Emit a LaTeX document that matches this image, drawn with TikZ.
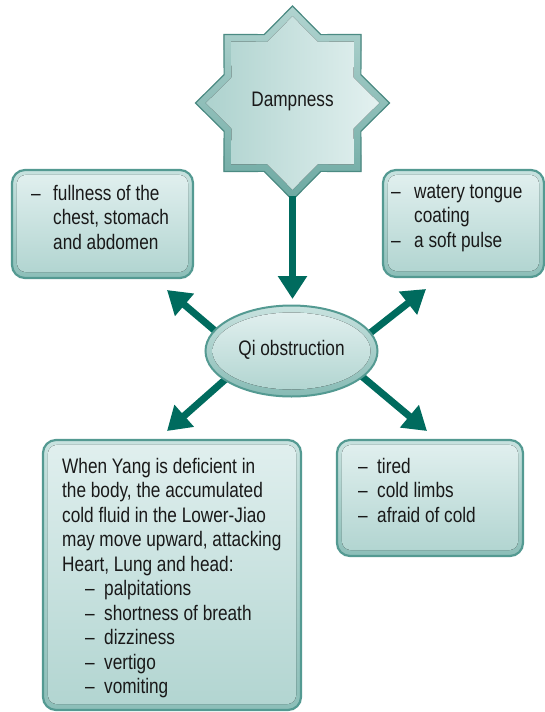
\documentclass[tikz,border=0pt]{standalone}
\usepackage{fontspec}
\setmainfont[FakeStretch=0.82]{Liberation Sans}
\usetikzlibrary{arrows.meta,shapes.geometric}
\definecolor{arrowc}{RGB}{0,107,94}
\definecolor{edgec}{RGB}{84,154,146}
\definecolor{bandtop}{RGB}{200,226,223}
\definecolor{bandbot}{RGB}{140,190,184}
\definecolor{intop}{RGB}{224,239,238}
\definecolor{inbot}{RGB}{178,213,209}
\definecolor{txtc}{RGB}{25,25,25}
\newcommand\dstar[2]{(90:#1) -- (112.5:#2) -- (135:#1) -- (157.5:#2) -- (180:#1) -- (202.5:#2) -- (225:#1) -- (247.5:#2) -- (270:#1) -- (292.5:#2) -- (315:#1) -- (337.5:#2) -- (0:#1) -- (22.5:#2) -- (45:#1) -- (67.5:#2) -- cycle}
\newcommand\dashitem[2]{\makebox[#1][l]{–}#2}
\begin{document}
\begin{tikzpicture}[x=1pt,y=-1pt,
  txt/.style={inner sep=0pt, text=txtc, font=\fontsize{21}{24.5}\selectfont},
  boxout/.style={draw=edgec, line width=2.2pt, rounded corners=13pt, top color=bandtop, bottom color=bandbot, inner sep=0pt},
  boxin/.style={rounded corners=9pt, top color=intop, bottom color=inbot},
  arr/.style={draw=arrowc, line width=7pt, -{Triangle[width=28pt,length=23pt]}}
]
\useasboundingbox (0,0) rectangle (544,712);
% ---------- star
\begin{scope}[shift={(292.5,103)}]
  \fill[top color=bandtop!80!edgec, bottom color=edgec!85] \dstar{97}{74};
  \fill[left color=inbot!95!edgec, right color=intop!90!white] [scale=0.895] \dstar{97}{74};
  \draw[edgec!90!black, line width=1.2pt] \dstar{97}{74};
\end{scope}
\coordinate (starbot) at (292.5,196);
\node[txt] (damp) at (292.5,101) {Dampness};
% ---------- arrows (drawn under the ellipse)
\coordinate (tipD) at (292.5,299);
\coordinate (tipUL) at (167,290);
\coordinate (tipUR) at (426,289);
\coordinate (tipDL) at (167,431);
\coordinate (tipDR) at (427,431);
\coordinate (tailUL) at (240,352);
\coordinate (tailUR) at (346,352);
\coordinate (tailDL) at (245,362);
\coordinate (tailDR) at (340,358);
\draw[arr] (starbot) -- (tipD);
\draw[arr] (tailUL) -- (tipUL);
\draw[arr] (tailUR) -- (tipUR);
\draw[arr] (tailDL) -- (tipDL);
\draw[arr] (tailDR) -- (tipDR);
% ---------- ellipse
\node[ellipse, draw=edgec, line width=2pt, top color=bandtop, bottom color=bandbot!90!edgec, minimum width=172pt, minimum height=91pt, inner sep=0pt] (qi) at (291.5,351) {};
\fill[top color=intop, bottom color=inbot] (qi.center) ellipse [x radius=79, y radius=38.5];
\node[txt] (qitxt) at (291.5,350) {Qi obstruction};
% ---------- boxes
\node[boxout, minimum width=181pt, minimum height=108pt] (bTL) at (102.5,224) {};
\fill[boxin] ([shift={(6,6)}]bTL.north west) rectangle ([shift={(-6,-7)}]bTL.south east);
\node[boxout, minimum width=161pt, minimum height=107pt] (bTR) at (463.5,223.5) {};
\fill[boxin] ([shift={(6,6)}]bTR.north west) rectangle ([shift={(-6,-7)}]bTR.south east);
\node[boxout, minimum width=258pt, minimum height=270pt] (bBL) at (172,575) {};
\fill[boxin] ([shift={(6,6)}]bBL.north west) rectangle ([shift={(-6,-7)}]bBL.south east);
\node[boxout, minimum width=186pt, minimum height=116pt] (bBR) at (430,498) {};
\fill[boxin] ([shift={(6,6)}]bBR.north west) rectangle ([shift={(-6,-7)}]bBR.south east);
% ---------- texts
\node[txt, anchor=base west] (tTL) at (31,200) {\begin{tabular}[t]{@{}l@{}}\dashitem{22pt}{fullness of the}\\\hspace*{22pt}chest, stomach\\\hspace*{22pt}and abdomen\end{tabular}};
\node[txt, anchor=base west] (tTR) at (391,198) {\begin{tabular}[t]{@{}l@{}}\dashitem{23pt}{watery tongue}\\\hspace*{23pt}coating\\\dashitem{23pt}{a soft pulse}\end{tabular}};
\node[txt, anchor=base west] (tBR) at (358,473) {\begin{tabular}[t]{@{}l@{}}\dashitem{19pt}{tired}\\\dashitem{19pt}{cold limbs}\\\dashitem{19pt}{afraid of cold}\end{tabular}};
\node[txt, anchor=base west] (tBL) at (62,473) {\begin{tabular}[t]{@{}l@{}}When Yang is deficient in\\the body, the accumulated\\cold fluid in the Lower-Jiao\\may move upward, attacking\\Heart, Lung and head:\\\hspace*{23pt}\dashitem{19pt}{palpitations}\\\hspace*{23pt}\dashitem{19pt}{shortness of breath}\\\hspace*{23pt}\dashitem{19pt}{dizziness}\\\hspace*{23pt}\dashitem{19pt}{vertigo}\\\hspace*{23pt}\dashitem{19pt}{vomiting}\end{tabular}};
\end{tikzpicture}
\end{document}
